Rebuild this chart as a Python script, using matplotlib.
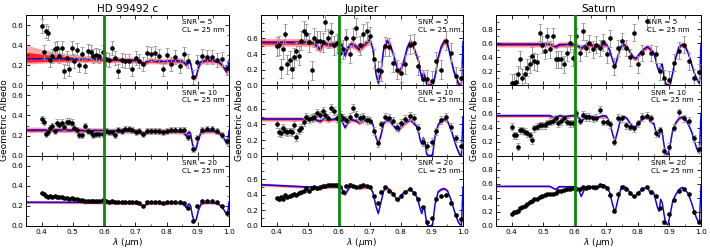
import numpy as np
import matplotlib.pyplot as plt
from matplotlib.ticker import MultipleLocator

# model wavelength grid (um)
wl_model = [0.35, 0.40, 0.45, 0.50, 0.52, 0.54, 0.55, 0.57,
            0.59, 0.60, 0.61, 0.62, 0.63, 0.64, 0.655, 0.665,
            0.675, 0.69, 0.70, 0.71, 0.72, 0.727, 0.735, 0.745,
            0.755, 0.765, 0.775, 0.785, 0.792, 0.80, 0.81, 0.82,
            0.83, 0.84, 0.85, 0.857, 0.862, 0.867, 0.872, 0.877,
            0.883, 0.888, 0.895, 0.902, 0.91, 0.92, 0.93, 0.94,
            0.95, 0.96, 0.97, 0.978, 0.985, 0.99, 0.995, 1.0]

# simulated data wavelengths (um)
wl_data = [0.400, 0.407, 0.413, 0.420, 0.427, 0.434, 0.442, 0.449,
           0.457, 0.464, 0.472, 0.480, 0.488, 0.496, 0.504, 0.513,
           0.521, 0.530, 0.539, 0.548, 0.557, 0.566, 0.575, 0.585,
           0.595, 0.605, 0.615, 0.625, 0.635, 0.646, 0.657, 0.668,
           0.679, 0.690, 0.702, 0.713, 0.725, 0.737, 0.750, 0.762,
           0.775, 0.788, 0.801, 0.814, 0.828, 0.842, 0.856, 0.870,
           0.884, 0.899, 0.914, 0.929, 0.945, 0.961, 0.977, 0.993]

# ---- HD 99492 c ----
hd_mod5 = [.265, .265, .265, .262, .262, .258, .260, .260,
           .258, .258, .256, .250, .255, .255, .252, .250,
           .252, .250, .248, .245, .225, .212, .235, .245,
           .245, .243, .243, .238, .235, .240, .245, .245,
           .245, .243, .240, .225, .205, .225, .240, .220,
           .120, .075, .090, .180, .235, .245, .248, .248,
           .245, .240, .225, .200, .170, .140, .130, .250]
hd_mod10 = [.255, .255, .255, .253, .253, .250, .251, .251,
            .250, .250, .248, .242, .247, .247, .245, .243,
            .245, .244, .242, .240, .222, .210, .232, .242,
            .242, .240, .240, .236, .233, .238, .242, .242,
            .242, .240, .237, .222, .200, .220, .236, .215,
            .110, .060, .075, .170, .232, .242, .245, .245,
            .242, .237, .222, .195, .165, .135, .120, .250]
hd_mod20 = [.238, .237, .237, .236, .236, .233, .234, .234,
            .233, .233, .231, .226, .230, .230, .228, .226,
            .228, .227, .226, .224, .208, .196, .218, .227,
            .228, .226, .226, .222, .219, .224, .228, .228,
            .228, .226, .223, .208, .185, .205, .221, .200,
            .100, .050, .065, .160, .220, .230, .232, .232,
            .230, .225, .210, .185, .155, .125, .110, .240]
hd_dat5 = [0.59, 0.33, 0.54, 0.52, 0.25, 0.29, 0.36, 0.37,
           0.29, 0.37, 0.14, 0.27, 0.16, 0.37, 0.24, 0.35,
           0.20, 0.31, 0.19, 0.34, 0.33, 0.29, 0.30, 0.29,
           0.33, 0.26, 0.25, 0.37, 0.27, 0.14, 0.25, 0.24,
           0.24, 0.16, 0.27, 0.24, 0.21, 0.32, 0.31, 0.32,
           0.29, 0.16, 0.30, 0.21, 0.28, 0.19, 0.31, 0.24,
           0.08, 0.23, 0.29, 0.28, 0.28, 0.25, 0.26, 0.17]
hd_dat10 = [0.36, 0.34, 0.22, 0.24, 0.28, 0.30, 0.25, 0.33,
            0.31, 0.33, 0.29, 0.34, 0.34, 0.33, 0.28, 0.26,
            0.21, 0.21, 0.30, 0.25, 0.24, 0.21, 0.22, 0.22,
            0.22, 0.25, 0.24, 0.24, 0.21, 0.26, 0.25, 0.27,
            0.27, 0.26, 0.24, 0.25, 0.22, 0.25, 0.25, 0.25,
            0.25, 0.24, 0.25, 0.26, 0.26, 0.26, 0.26, 0.19,
            0.07, 0.18, 0.26, 0.27, 0.27, 0.25, 0.21, 0.15]
hd_dat20 = [0.33, 0.32, 0.30, 0.29, 0.30, 0.29, 0.30, 0.29,
            0.29, 0.29, 0.28, 0.28, 0.27, 0.28, 0.27, 0.27,
            0.26, 0.26, 0.25, 0.25, 0.25, 0.25, 0.25, 0.25,
            0.26, 0.25, 0.24, 0.25, 0.24, 0.24, 0.24, 0.24,
            0.24, 0.24, 0.24, 0.23, 0.20, 0.24, 0.24, 0.24,
            0.24, 0.23, 0.24, 0.24, 0.24, 0.24, 0.23, 0.18,
            0.05, 0.20, 0.25, 0.25, 0.25, 0.24, 0.20, 0.13]
# retrieval spread for the SNR=5 case (below / above the model)
hd5_lo2 = [.055, .045, .040, .035, .033, .032, .031, .030, .030, .030] + [.030] * 46
hd5_hi2 = [.135, .095, .065, .045, .042, .040, .038, .035, .032, .030] + [.030] * 46
hd5_lo1 = [.035, .030, .025, .020, .018, .017, .016, .015, .015, .015] + [.015] * 46
hd5_hi1 = [.065, .045, .030, .022, .020, .019, .018, .017, .016, .015] + [.015] * 46

# ---- Jupiter ----
ju_mod5 = [.55, .55, .55, .55, .54, .46, .54, .52,
           .53, .54, .52, .38, .49, .53, .50, .46,
           .50, .55, .59, .46, .14, .03, .16, .48,
           .57, .52, .40, .26, .18, .21, .32, .48,
           .56, .50, .38, .31, .18, .10, .15, .12,
           .01, .00, .00, .01, .12, .36, .50, .57,
           .53, .36, .18, .10, .02, .00, .00, .56]
ju_mod10 = [.47, .47, .47, .47, .47, .44, .47, .46,
            .47, .47, .45, .36, .43, .46, .45, .42,
            .44, .46, .47, .40, .23, .16, .25, .42,
            .46, .44, .39, .34, .32, .37, .41, .44,
            .46, .42, .38, .30, .20, .15, .23, .17,
            .02, .00, .00, .01, .25, .40, .45, .47,
            .44, .35, .22, .12, .05, .01, .00, .50]
ju_mod20 = [.53, .52, .51, .50, .50, .47, .50, .50,
            .50, .50, .48, .40, .47, .52, .50, .48,
            .49, .50, .50, .43, .25, .16, .29, .46,
            .49, .46, .41, .35, .32, .39, .43, .45,
            .48, .43, .38, .30, .22, .16, .25, .20,
            .03, .00, .00, .02, .28, .44, .47, .48,
            .45, .35, .22, .12, .05, .02, .01, .50]
ju_dat5 = [0.50, 0.51, 0.22, 0.46, 0.66, 0.27, 0.32, 0.21,
           0.36, 0.44, 0.38, 0.57, 0.70, 0.66, 0.55, 0.19,
           0.61, 0.57, 0.57, 0.55, 0.81, 0.60, 0.68, 0.51,
           0.54, 0.42, 0.46, 0.60, 0.40, 0.61, 0.74, 0.51,
           0.66, 0.69, 0.63, 0.34, 0.19, 0.18, 0.50, 0.49,
           0.29, 0.20, 0.16, 0.27, 0.52, 0.54, 0.25, 0.08,
           0.08, 0.06, 0.31, 0.20, 0.57, 0.42, 0.12, 0.10]
ju_dat10 = [0.41, 0.30, 0.29, 0.35, 0.31, 0.30, 0.31, 0.30,
            0.39, 0.24, 0.33, 0.35, 0.43, 0.50, 0.47, 0.48,
            0.50, 0.55, 0.52, 0.57, 0.52, 0.48, 0.61, 0.57,
            0.48, 0.52, 0.48, 0.46, 0.50, 0.61, 0.52, 0.48,
            0.49, 0.46, 0.45, 0.32, 0.16, 0.40, 0.49, 0.48,
            0.44, 0.37, 0.42, 0.47, 0.51, 0.48, 0.35, 0.18,
            0.12, 0.18, 0.31, 0.46, 0.50, 0.37, 0.22, 0.12]
ju_dat20 = [0.36, 0.34, 0.37, 0.35, 0.40, 0.37, 0.39, 0.40,
            0.41, 0.40, 0.42, 0.43, 0.45, 0.48, 0.45, 0.48,
            0.50, 0.48, 0.50, 0.51, 0.51, 0.52, 0.53, 0.52,
            0.53, 0.50, 0.44, 0.51, 0.53, 0.51, 0.50, 0.51,
            0.52, 0.51, 0.50, 0.38, 0.29, 0.44, 0.50, 0.45,
            0.41, 0.35, 0.38, 0.44, 0.47, 0.42, 0.34, 0.24,
            0.05, 0.10, 0.35, 0.38, 0.40, 0.30, 0.14, 0.09]

# ---- Saturn ----
sa_mod5 = [.585, .585, .585, .585, .585, .55, .58, .58,
           .58, .58, .56, .53, .56, .58, .57, .55,
           .56, .58, .58, .50, .35, .27, .40, .55,
           .58, .55, .47, .40, .38, .42, .48, .52,
           .55, .51, .46, .35, .25, .20, .28, .30,
           .10, .02, .00, .02, .18, .40, .55, .58,
           .55, .45, .30, .18, .10, .06, .03, .60]
sa_mod10 = [.57, .57, .57, .57, .57, .53, .57, .56,
            .57, .57, .55, .48, .54, .57, .55, .53,
            .55, .57, .56, .47, .30, .21, .34, .52,
            .56, .53, .46, .41, .41, .46, .51, .54,
            .55, .48, .46, .34, .29, .27, .39, .33,
            .14, .03, .02, .15, .36, .47, .53, .55,
            .52, .44, .34, .22, .12, .06, .04, .60]
sa_mod20 = [.565, .565, .565, .565, .565, .52, .56, .56,
            .56, .56, .54, .42, .52, .57, .55, .52,
            .55, .59, .56, .48, .30, .19, .35, .52,
            .57, .54, .47, .42, .43, .47, .51, .54,
            .55, .46, .47, .35, .26, .21, .38, .33,
            .16, .03, .02, .16, .35, .45, .52, .55,
            .52, .45, .33, .21, .12, .07, .05, .57]
sa_dat5 = [0.04, 0.04, 0.05, 0.16, 0.37, 0.11, 0.16, 0.25,
           0.30, 0.42, 0.34, 0.33, 0.75, 0.58, 0.49, 0.70,
           0.51, 0.70, 0.37, 0.37, 0.37, 0.30, 0.46, 0.60,
           0.39, 0.70, 0.46, 0.77, 0.53, 0.60, 0.51, 0.58,
           0.53, 0.61, 0.44, 0.67, 0.27, 0.53, 0.63, 0.53,
           0.40, 0.75, 0.30, 0.46, 0.91, 0.46, 0.44, 0.20,
           0.10, 0.08, 0.32, 0.49, 0.58, 0.34, 0.11, 0.19]
sa_dat10 = [0.41, 0.29, 0.29, 0.13, 0.36, 0.36, 0.34, 0.32,
            0.29, 0.22, 0.39, 0.41, 0.43, 0.43, 0.43, 0.46,
            0.48, 0.50, 0.53, 0.46, 0.49, 0.53, 0.48, 0.46,
            0.46, 0.60, 0.50, 0.58, 0.55, 0.55, 0.53, 0.54,
            0.65, 0.48, 0.48, 0.45, 0.20, 0.54, 0.53, 0.43,
            0.41, 0.39, 0.46, 0.55, 0.57, 0.53, 0.32, 0.36,
            0.06, 0.13, 0.40, 0.62, 0.53, 0.50, 0.25, 0.10]
sa_dat20 = [0.17, 0.20, 0.20, 0.22, 0.25, 0.27, 0.29, 0.31,
            0.34, 0.36, 0.38, 0.39, 0.41, 0.42, 0.44, 0.45,
            0.45, 0.46, 0.47, 0.50, 0.50, 0.51, 0.52, 0.53,
            0.54, 0.53, 0.52, 0.55, 0.54, 0.55, 0.55, 0.55,
            0.58, 0.57, 0.54, 0.44, 0.21, 0.46, 0.56, 0.53,
            0.47, 0.43, 0.47, 0.53, 0.56, 0.49, 0.42, 0.26,
            0.05, 0.17, 0.37, 0.50, 0.53, 0.46, 0.20, 0.06]

snrs = [5, 10, 20]
titles = ['HD 99492 c', 'Jupiter', 'Saturn']

# panel table: (model, data, error bar, band 1-sigma, band 2-sigma)
columns = [
    dict(title=titles[0], ymax=0.7, yticks=[0, 0.2, 0.4, 0.6], textx=[0.77, 0.77, 0.77],
         panels=[(hd_mod5, hd_dat5, 0.07, (hd5_lo1, hd5_hi1), (hd5_lo2, hd5_hi2)),
                 (hd_mod10, hd_dat10, 0.03, (0.012, 0.014), (0.025, 0.03)),
                 (hd_mod20, hd_dat20, 0.012, (0.006, 0.006), (0.014, 0.014))]),
    dict(title=titles[1], ymax=0.9, yticks=[0, 0.2, 0.4, 0.6], textx=[0.775, 0.775, 0.775],
         panels=[(ju_mod5, ju_dat5, 0.12, (0.025, 0.025), (0.05, 0.05)),
                 (ju_mod10, ju_dat10, 0.05, (0.013, 0.013), (0.03, 0.03)),
                 (ju_mod20, ju_dat20, 0.015, (0.008, 0.008), (0.02, 0.02))]),
    dict(title=titles[2], ymax=1.0, yticks=[0, 0.2, 0.4, 0.6, 0.8], textx=[0.735, 0.755, 0.755],
         panels=[(sa_mod5, sa_dat5, 0.12, (0.02, 0.02), (0.04, 0.04)),
                 (sa_mod10, sa_dat10, 0.05, (0.012, 0.012), (0.025, 0.025)),
                 (sa_mod20, sa_dat20, 0.015, (0.006, 0.006), (0.015, 0.015))]),
]

fig = plt.figure(figsize=(7.1, 2.48), dpi=100)
lefts = [26 / 710, 261 / 710, 496 / 710]
widths = [203 / 710, 202 / 710, 205 / 710]
bot = 22 / 248
h = (211 / 248) / 3

for ci, col in enumerate(columns):
    for ri, (mod, dat, err, b1, b2) in enumerate(col['panels']):
        ax = fig.add_axes([lefts[ci], bot + (2 - ri) * h, widths[ci], h])
        m = np.array(mod)
        lo1, hi1 = np.array(b1[0]), np.array(b1[1])
        lo2, hi2 = np.array(b2[0]), np.array(b2[1])
        ax.fill_between(wl_model, m - lo2, m + hi2, color='#ffa8a8', lw=0, zorder=1)
        ax.fill_between(wl_model, m - lo1, m + hi1, color='#ff2020', lw=0, zorder=1.5)
        ax.plot(wl_model, m, color='#0000ff', lw=1.0, zorder=2)
        ax.errorbar(wl_data, dat, yerr=err, fmt='o', ms=2.3, mfc='k', mec='k',
                    ecolor='0.6', elinewidth=0.7, capsize=1.3, capthick=0.6, zorder=3)
        ax.axvline(0.6, color='#0a8a0a', lw=2, zorder=4)

        ax.set_xlim(0.35, 1.0)
        ax.set_ylim(0, col['ymax'])
        ax.set_yticks(col['yticks'])
        ax.set_xticks([0.4, 0.5, 0.6, 0.7, 0.8, 0.9, 1.0])
        ax.xaxis.set_minor_locator(MultipleLocator(0.05))
        ax.yaxis.set_minor_locator(MultipleLocator(0.1))
        ax.tick_params(direction='in', top=True, right=True, labelsize=5.3,
                       length=3, width=0.6, pad=2)
        ax.tick_params(which='minor', direction='in', top=True, right=True,
                       length=1.8, width=0.5)
        for s in ax.spines.values():
            s.set_linewidth(0.7)
        ax.text(col['textx'][ri], 0.94, 'SNR = %d\nCL = 25 nm' % snrs[ri],
                transform=ax.transAxes, ha='left', va='top', fontsize=5.2,
                linespacing=1.35, zorder=6)
        if ri < 2:
            ax.set_xticklabels([])
        else:
            ax.set_xlabel(r'$\lambda$ ($\mu$m)', fontsize=6.5, labelpad=1)
        if ri == 0:
            ax.set_title(col['title'], fontsize=7.5, pad=2)
        if ri == 1:
            ax.set_ylabel('Geometric Albedo', fontsize=6.5, labelpad=2)

fig.savefig('out.png', dpi=100)
